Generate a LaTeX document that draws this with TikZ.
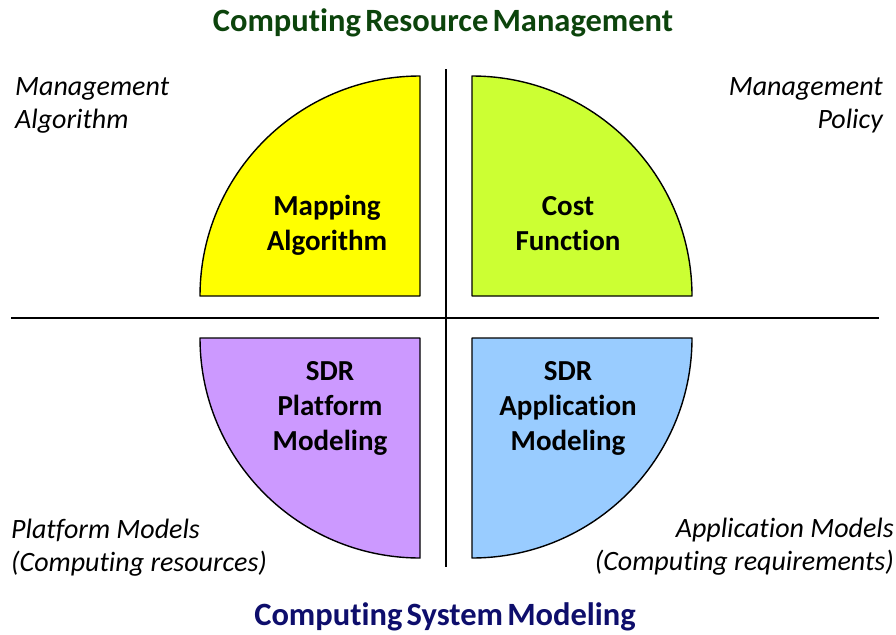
\documentclass[tikz,border=0pt]{standalone}
\usepackage{fontspec}
\setmainfont{Carlito}[Ligatures=NoCommon]
\definecolor{quadyellow}{RGB}{255,255,0}
\definecolor{quadgreen}{RGB}{204,255,51}
\definecolor{quadpurple}{RGB}{204,153,255}
\definecolor{quadblue}{RGB}{153,204,255}
\definecolor{titlegreen}{RGB}{12,68,12}
\definecolor{titlenavy}{RGB}{14,14,108}
\newcommand{\tightwords}{\spaceskip=0.13em\relax}
\tikzset{
  quad/.style={draw=black, line width=1.4pt, line join=round},
  quadlabel/.style={font=\fontsize{29}{35}\selectfont\bfseries, align=center, inner sep=0pt, anchor=base},
  cornerleft/.style={font=\fontsize{28}{33}\selectfont\itshape, align=left, inner sep=0pt, anchor=base west},
  cornerright/.style={font=\fontsize{28}{33}\selectfont\itshape, align=right, inner sep=0pt, anchor=base east},
  headline/.style={font=\fontsize{32.5}{38}\selectfont\bfseries, inner sep=0pt, anchor=base},
}
\begin{document}
\begin{tikzpicture}[x=1pt,y=-1pt]
\useasboundingbox (0,0) rectangle (896,634);
\fill[white] (0,0) rectangle (896,634);

% axes
\coordinate (hl) at (11,318);
\coordinate (hr) at (879,318);
\coordinate (vt) at (446,69);
\coordinate (vb) at (446,567);
\draw[line width=2.8pt] (hl) -- (hr);
\draw[line width=2pt] (vt) -- (vb);

% quarter discs
\draw[quad, fill=quadyellow] (420,296) -- (200,296) arc (180:270:220) -- cycle;
\draw[quad, fill=quadgreen] (472,296) -- (472,76) arc (-90:0:220) -- cycle;
\draw[quad, fill=quadpurple] (420,338) -- (200,338) arc (180:90:220) -- cycle;
\draw[quad, fill=quadblue] (472,338) -- (692,338) arc (0:90:220) -- cycle;

% quadrant labels (anchored on the baseline of the last line)
\node[quadlabel] (map) at (327,250) {Mapping\\Algorithm};
\node[quadlabel] (cost) at (568,250) {Cost\\Function};
\node[quadlabel] (plat) at (330,450) {SDR\\Platform\\Modeling};
\node[quadlabel] (app) at (568,450) {SDR\\Application\\Modeling};

% corner notes
\node[cornerleft] (malg) at (15,128) {Management\\Algorithm};
\node[cornerright] (mpol) at (883,128) {Management\\Policy};
\node[cornerleft] (pmod) at (11,571) {Platform Models\\(Computing resources)};
\node[cornerright] (amod) at (894,570) {Application Models\\(Computing requirements)};

% headings
\node[headline, text=titlegreen] (top) at (443,32) {\tightwords Computing Resource Management};
\node[headline, text=titlenavy] (bottom) at (445,625) {\tightwords Computing System Modeling};
\end{tikzpicture}
\end{document}
